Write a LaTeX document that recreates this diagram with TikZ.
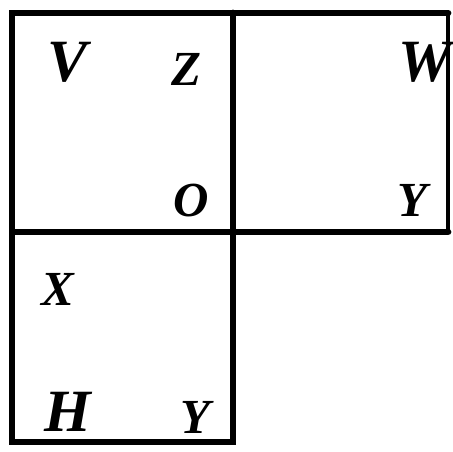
\documentclass[tikz,border=0pt]{standalone}
\usepackage{fontspec}
\setmainfont{Liberation Serif}

\begin{document}
\begin{tikzpicture}[x=0.5pt,y=-0.5pt,
  frame/.style={line width=3.4pt,line cap=round},
  biglabel/.style={inner sep=0pt,font=\fontsize{30}{30}\selectfont\bfseries\itshape},
  smalllabel/.style={inner sep=0pt,font=\fontsize{24.5}{24.5}\selectfont\bfseries\itshape}]
  \useasboundingbox (0,0) rectangle (452,452);
  \coordinate (A) at (12,13);
  \coordinate (B) at (233,13);
  \coordinate (C) at (448,13);
  \coordinate (D) at (12,232);
  \coordinate (M) at (233,232);
  \coordinate (E) at (448,232);
  \coordinate (F) at (12,442);
  \coordinate (G) at (233,442);

  % three squares
  \draw[frame] (E) -- (D) -- (A) -- (C);
  \draw[line width=2pt] (C) -- (E);
  \draw[frame] (B) -- (G) -- (F) -- (D);

  \node[biglabel] (v) at (68,62) {V};
  \node[smalllabel] (z) at (186,69) {Z};
  \node[biglabel] (w) at (425,62) {W};
  \node[smalllabel] (o) at (191,201) {O};
  \node[smalllabel] (y1) at (412,200) {Y};
  \node[smalllabel] (x) at (58,289) {X};
  \node[biglabel] (h) at (68,412) {H};
  \node[smalllabel] (y2) at (195,417) {Y};
\end{tikzpicture}
\end{document}
